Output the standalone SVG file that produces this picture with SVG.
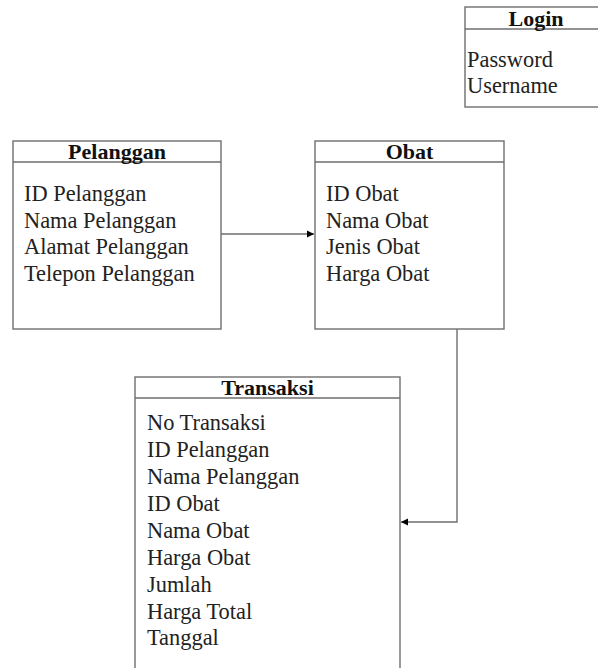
<svg xmlns="http://www.w3.org/2000/svg" width="598" height="668" viewBox="0 0 598 668">
<defs>
<style>
.box{fill:#fff;stroke:#6e6e6e;stroke-width:1.4}
.sep{stroke:#6e6e6e;stroke-width:1.4}
.hd{font-family:"Liberation Serif","Times New Roman",serif;font-weight:bold;font-size:22px;fill:#111;text-anchor:middle}
.at{font-family:"Liberation Serif","Times New Roman",serif;font-size:22.4px;fill:#222}
.ln{fill:none;stroke:#6e6e6e;stroke-width:1.4}
</style>
<marker id="ah" markerWidth="8" markerHeight="8" refX="7" refY="4" orient="auto" markerUnits="userSpaceOnUse">
<path d="M0,0.5 L7,4 L0,7.5 Z" fill="#000"/>
</marker>
</defs>
<rect width="598" height="668" fill="#fff"/>
<g id="login">
<rect class="box" x="465" y="7" width="150" height="100"/>
<line class="sep" x1="465" y1="29" x2="615" y2="29"/>
<text class="hd" x="536" y="26">Login</text>
<text class="at" x="467" y="67">Password</text>
<text class="at" x="467" y="93">Username</text>
</g>
<g id="pelanggan">
<rect class="box" x="13" y="141" width="208" height="188"/>
<line class="sep" x1="13" y1="162" x2="221" y2="162"/>
<text class="hd" x="117" y="159">Pelanggan</text>
<text class="at" x="24" y="201">ID Pelanggan</text>
<text class="at" x="24" y="227.5">Nama Pelanggan</text>
<text class="at" x="24" y="254">Alamat Pelanggan</text>
<text class="at" x="24" y="281">Telepon Pelanggan</text>
</g>
<g id="obat">
<rect class="box" x="315" y="141" width="189" height="188"/>
<line class="sep" x1="315" y1="162" x2="504" y2="162"/>
<text class="hd" x="409.5" y="159">Obat</text>
<text class="at" x="326" y="201">ID Obat</text>
<text class="at" x="326" y="227.5">Nama Obat</text>
<text class="at" x="326" y="254">Jenis Obat</text>
<text class="at" x="326" y="281">Harga Obat</text>
</g>
<g id="transaksi">
<rect class="box" x="135" y="377" width="265" height="310"/>
<line class="sep" x1="135" y1="398" x2="400" y2="398"/>
<text class="hd" x="267.5" y="395">Transaksi</text>
<text class="at" x="147" y="430">No Transaksi</text>
<text class="at" x="147" y="457">ID Pelanggan</text>
<text class="at" x="147" y="484">Nama Pelanggan</text>
<text class="at" x="147" y="511">ID Obat</text>
<text class="at" x="147" y="538">Nama Obat</text>
<text class="at" x="147" y="565">Harga Obat</text>
<text class="at" x="147" y="592">Jumlah</text>
<text class="at" x="147" y="619">Harga Total</text>
<text class="at" x="147" y="645">Tanggal</text>
</g>
<g id="connectors">
<line class="ln" x1="221" y1="234" x2="314" y2="234" marker-end="url(#ah)"/>
<polyline class="ln" points="457,329 457,522 401,522" marker-end="url(#ah)"/>
</g>
</svg>
